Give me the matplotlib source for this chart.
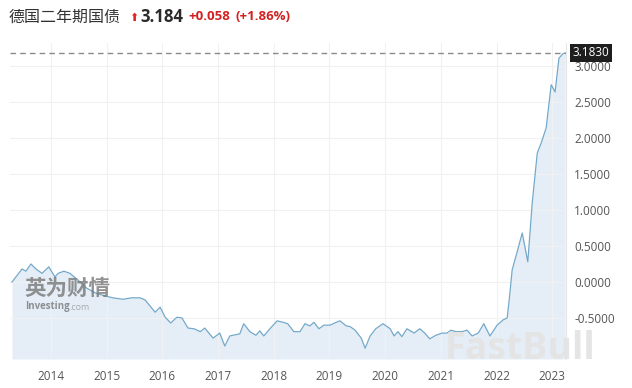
import matplotlib
matplotlib.use("Agg")
import matplotlib.pyplot as plt

plt.rcParams["font.family"] = ["Open Sans", "Noto Sans CJK SC", "DejaVu Sans"]

# German 2-year yield, approx monthly points (decimal year, %)
years = [2013.30, 2013.48, 2013.55, 2013.64, 2013.73, 2013.84, 2013.96, 2014.07,
         2014.13, 2014.23, 2014.34, 2014.48, 2014.63, 2014.79, 2014.95, 2015.11,
         2015.29, 2015.45, 2015.60, 2015.69, 2015.87, 2015.96, 2016.05, 2016.15,
         2016.26, 2016.35, 2016.46, 2016.57, 2016.68, 2016.76, 2016.91, 2017.03,
         2017.12, 2017.21, 2017.39, 2017.46, 2017.57, 2017.68, 2017.75, 2017.82,
         2017.93, 2018.06, 2018.17, 2018.25, 2018.36, 2018.47, 2018.56, 2018.65,
         2018.72, 2018.81, 2018.90, 2019.01, 2019.12, 2019.19, 2019.30, 2019.37,
         2019.46, 2019.57, 2019.64, 2019.73, 2019.83, 2019.96, 2020.09, 2020.16,
         2020.23, 2020.30, 2020.39, 2020.52, 2020.62, 2020.71, 2020.80, 2020.91,
         2021.02, 2021.11, 2021.18, 2021.27, 2021.38, 2021.47, 2021.56, 2021.67,
         2021.77, 2021.88, 2022.01, 2022.11, 2022.19, 2022.23, 2022.28, 2022.37,
         2022.46, 2022.56, 2022.64, 2022.73, 2022.80, 2022.89, 2022.98, 2023.05,
         2023.12, 2023.19, 2023.23]
yields = [0.00, 0.18, 0.15, 0.25, 0.18, 0.12, 0.21, 0.07,
          0.12, 0.15, 0.12, 0.03, -0.08, -0.15, -0.19, -0.22,
          -0.24, -0.22, -0.22, -0.25, -0.42, -0.35, -0.49, -0.57,
          -0.49, -0.50, -0.64, -0.65, -0.69, -0.64, -0.78, -0.71,
          -0.89, -0.75, -0.72, -0.58, -0.69, -0.74, -0.68, -0.75,
          -0.65, -0.54, -0.56, -0.58, -0.69, -0.69, -0.58, -0.61,
          -0.56, -0.65, -0.60, -0.60, -0.56, -0.54, -0.61, -0.62,
          -0.67, -0.78, -0.92, -0.75, -0.65, -0.58, -0.65, -0.75,
          -0.69, -0.76, -0.65, -0.71, -0.65, -0.71, -0.79, -0.74,
          -0.71, -0.71, -0.67, -0.69, -0.69, -0.67, -0.75, -0.71,
          -0.58, -0.75, -0.60, -0.53, -0.50, -0.22, 0.17, 0.42,
          0.68, 0.28, 1.10, 1.79, 1.93, 2.14, 2.74, 2.64,
          3.11, 3.17, 3.183]

year_ticks = [2014, 2015, 2016, 2017, 2018, 2019, 2020, 2021, 2022, 2023]
y_ticks = [-0.5, 0.0, 0.5, 1.0, 1.5, 2.0, 2.5, 3.0]
last_value = 3.183

W, H = 632, 388
fig = plt.figure(figsize=(W / 100, H / 100), dpi=100)
ax = fig.add_axes([10 / W, 1 - 359 / H, 556 / W, 316 / H])

ymin, ymax = -1.07, 3.32
ax.fill_between(years, yields, ymin, color="#e5eef7", lw=0)
ax.plot(years, yields, color="#74a9c9", lw=0.9)
ax.axhline(last_value, color="#8a8a8a", lw=1, ls=(0, (4, 3)))

ax.set_xlim(2013.264, 2023.246)
ax.set_ylim(ymin, ymax)
ax.set_xticks(year_ticks)
ax.set_xticklabels([str(y) for y in year_ticks])
ax.set_yticks(y_ticks)
ax.set_yticklabels(["%.4f" % v for v in y_ticks])
ax.yaxis.tick_right()
ax.tick_params(axis="both", length=0, labelsize=8.5, colors="#555555")
ax.tick_params(axis="x", pad=8)
ax.tick_params(axis="y", pad=6)
ax.grid(True, color="#f1f1f1", lw=0.8)
for s in ["top", "left", "bottom"]:
    ax.spines[s].set_visible(False)
ax.spines["right"].set_color("#e6e6e6")

# current value box
ax.text(1.012, last_value, "%.4f" % last_value, transform=ax.get_yaxis_transform(),
        ha="left", va="center", fontsize=8.5, color="white",
        bbox=dict(boxstyle="square,pad=0.2", fc="#1e1e1e", ec="none"))

# header
fig.text(9 / W, 1 - 17 / H, "德国二年期国债", fontsize=11.5, color="#333333",
         va="center", family=["Noto Sans CJK SC", "DejaVu Sans"])
fig.text(129 / W, 1 - 18 / H, "⬆", fontsize=8, color="#e02020", va="center",
         family="DejaVu Sans")
fig.text(140 / W, 1 - 17 / H, "3.184", fontsize=12, weight="bold",
         color="#2a2a2a", va="center")
fig.text(188 / W, 1 - 17 / H, "+0.058", fontsize=9.5, weight="bold",
         color="#d32020", va="center")
fig.text(236 / W, 1 - 17 / H, "(+1.86%)", fontsize=9.5, weight="bold",
         color="#d32020", va="center")

# watermarks
ax.text(0.026, 0.222, "英为财情", transform=ax.transAxes, fontsize=15.5,
        weight="bold", color="#777777", alpha=0.8, va="center",
        family=["Noto Sans CJK SC", "DejaVu Sans"])
ax.text(0.028, 0.166, "Investing", transform=ax.transAxes, fontsize=7,
        weight="bold", color="#777777", alpha=0.8, va="center")
ax.text(0.106, 0.164, ".com", transform=ax.transAxes, fontsize=6.5,
        color="#999999", alpha=0.8, va="center")
fig.text(445 / W, 1 - 349 / H, "FastBull", fontsize=27, weight="bold",
         color="#e4e4e4", alpha=0.95, va="center")

fig.savefig("out.png", dpi=100)
